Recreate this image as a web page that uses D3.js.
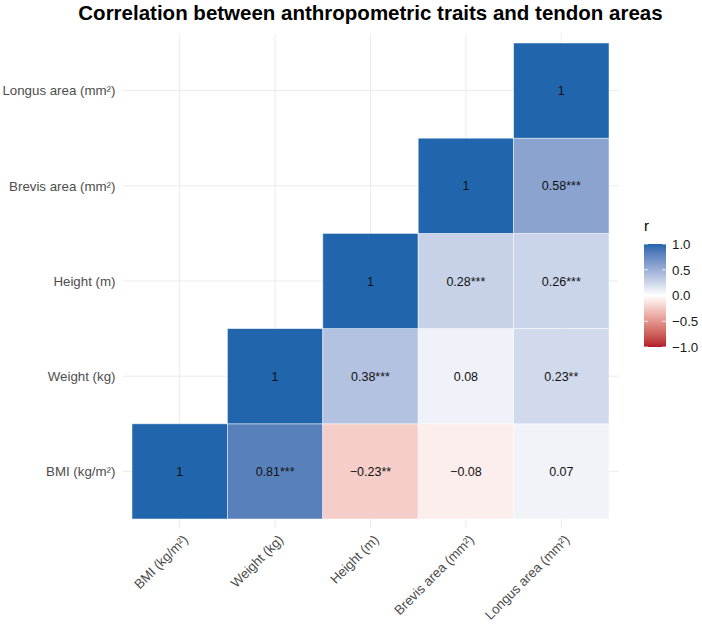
<!DOCTYPE html>
<html>
<head>
<meta charset="utf-8">
<script src="https://cdn.jsdelivr.net/npm/d3@7"></script>
<style>
  body { margin: 0; background: #fff; }
  svg text { font-family: "Liberation Sans", Arial, Helvetica, sans-serif; }
</style>
</head>
<body>
<div id="vis"></div>
<script>
// variables, bottom-left to top-right
var variables = ['BMI (kg/m²)', 'Weight (kg)', 'Height (m)', 'Brevis area (mm²)', 'Longus area (mm²)'];
// lower triangle, row i = variable i, column j >= i
var corrValues = [
    [1, 0.81, -0.23, -0.08, 0.07],
    [null, 1, 0.38, 0.08, 0.23],
    [null, null, 1, 0.28, 0.26],
    [null, null, null, 1, 0.58],
    [null, null, null, null, 1]
];
var signif = [
    ['', '***', '**', '', ''],
    [null, '', '***', '', '**'],
    [null, null, '', '***', '***'],
    [null, null, null, '', '***'],
    [null, null, null, null, '']
];
var legendTicks = [-1, -0.5, 0, 0.5, 1];
var title = 'Correlation between anthropometric traits and tendon areas';

var margin = {left: 132, right: 93, top: 43, bottom: 108};
var W = 702, H = 627;
var width = W - margin.left - margin.right;
var height = H - margin.top - margin.bottom;

var svg = d3.select('#vis')
    .append('svg')
        .attr('width', W)
        .attr('height', H);

var g = svg.append('g')
    .attr('transform', 'translate(' + margin.left + ',' + margin.top + ')');

var x = d3.scaleBand()
    .domain(variables)
    .range([0, width]);

var y = d3.scaleBand()
    .domain(variables.slice().reverse())
    .range([0, height]);

var pad = x.bandwidth() * 0.1;

var color = v => v >= 0
    ? d3.interpolateLab('#ffffff', '#2166AC')(v)
    : d3.interpolateLab('#ffffff', '#B2182B')(-v);

// grid
g.append('g')
    .selectAll('line')
    .data(variables)
    .enter()
    .append('line')
        .attr('x1', d => x(d) + x.bandwidth() / 2)
        .attr('x2', d => x(d) + x.bandwidth() / 2)
        .attr('y1', -pad)
        .attr('y2', height + pad)
        .style('stroke', '#ebebeb')
        .style('stroke-width', 1);

g.append('g')
    .selectAll('line')
    .data(variables)
    .enter()
    .append('line')
        .attr('y1', d => y(d) + y.bandwidth() / 2)
        .attr('y2', d => y(d) + y.bandwidth() / 2)
        .attr('x1', -pad)
        .attr('x2', width + pad)
        .style('stroke', '#ebebeb')
        .style('stroke-width', 1);

// cells
var cells = [];
corrValues.forEach((row, i) => {
    row.forEach((v, j) => {
        if (v !== null) cells.push({row: variables[i], col: variables[j], r: v, star: signif[i][j]});
    });
});

var fmt = v => v === 1 ? '1' : d3.format('.2f')(v).replace('-', '\u2212');

var cell = g.append('g')
    .selectAll('g')
    .data(cells)
    .enter()
    .append('g');

cell.append('rect')
    .attr('x', d => x(d.col))
    .attr('y', d => y(d.row))
    .attr('width', x.bandwidth())
    .attr('height', y.bandwidth())
    .style('fill', d => color(d.r))
    .style('stroke', '#ffffff')
    .style('stroke-opacity', 0.6)
    .style('stroke-width', 0.8);

cell.append('text')
    .attr('x', d => x(d.col) + x.bandwidth() / 2)
    .attr('y', d => y(d.row) + y.bandwidth() / 2)
    .attr('dy', '0.36em')
    .attr('text-anchor', 'middle')
    .style('font-size', '12.5px')
    .style('fill', '#111')
    .text(d => fmt(d.r) + d.star);

// y axis labels
g.append('g')
    .selectAll('text')
    .data(variables)
    .enter()
    .append('text')
        .attr('x', -pad - 7)
        .attr('y', d => y(d) + y.bandwidth() / 2)
        .attr('dy', '0.36em')
        .attr('text-anchor', 'end')
        .style('font-size', '13.3px')
        .style('fill', '#4d4d4d')
        .text(d => d);

// x axis labels
g.append('g')
    .selectAll('text')
    .data(variables)
    .enter()
    .append('text')
        .attr('transform', d => 'translate(' + (x(d) + x.bandwidth() / 2 + 2) + ',' + (height + pad + 5) + ') rotate(-45)')
        .attr('dy', '0.75em')
        .attr('text-anchor', 'end')
        .style('font-size', '13.3px')
        .style('fill', '#4d4d4d')
        .text(d => d);

// title
svg.append('text')
    .attr('x', margin.left + width / 2)
    .attr('y', 20)
    .attr('text-anchor', 'middle')
    .style('font-size', '20.5px')
    .style('font-weight', 'bold')
    .style('fill', '#000')
    .text(title);

// legend
var lx = 644, lw = 22;
var ly = d3.scaleLinear().domain([-1, 1]).range([347, 244]);

var defs = svg.append('defs');
var grad = defs.append('linearGradient')
    .attr('id', 'rgrad')
    .attr('x1', 0).attr('x2', 0).attr('y1', 1).attr('y2', 0);
d3.range(-1, 1.001, 0.05).forEach(v => {
    grad.append('stop')
        .attr('offset', (v + 1) / 2)
        .attr('stop-color', color(Math.max(-1, Math.min(1, v))));
});

svg.append('rect')
    .attr('x', lx)
    .attr('y', ly(1))
    .attr('width', lw)
    .attr('height', ly(-1) - ly(1))
    .style('fill', 'url(#rgrad)');

var lt = svg.append('g')
    .selectAll('g')
    .data(legendTicks)
    .enter()
    .append('g');

lt.append('line')
    .attr('x1', lx).attr('x2', lx + 4)
    .attr('y1', d => ly(d)).attr('y2', d => ly(d))
    .style('stroke', '#fff').style('stroke-width', 0.8);
lt.append('line')
    .attr('x1', lx + lw - 4).attr('x2', lx + lw)
    .attr('y1', d => ly(d)).attr('y2', d => ly(d))
    .style('stroke', '#fff').style('stroke-width', 0.8);

lt.append('text')
    .attr('x', lx + lw + 6)
    .attr('y', d => ly(d))
    .attr('dy', '0.36em')
    .style('font-size', '13.3px')
    .style('fill', '#1a1a1a')
    .text(d => d3.format('.1f')(d).replace('-', '\u2212'));

svg.append('text')
    .attr('x', lx)
    .attr('y', 231)
    .style('font-size', '15px')
    .style('fill', '#000')
    .text('r');
</script>
</body>
</html>
